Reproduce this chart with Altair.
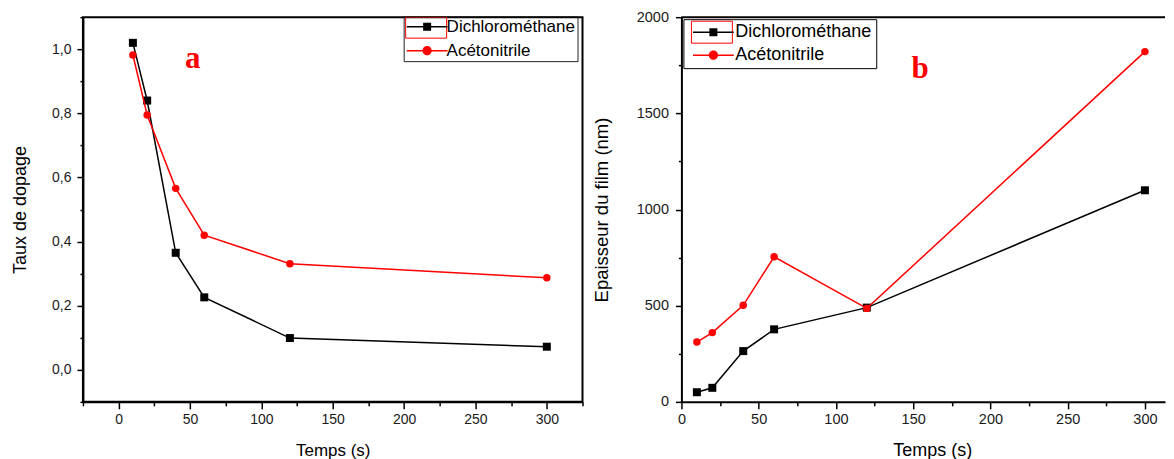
import altair as alt
import pandas as pd

FONT = "Liberation Sans"

# ---- data ----
temps = [10, 20, 40, 60, 120, 300]
series_names = ["Dichlorométhane", "Acétonitrile"]
series_colors = ["#000000", "#ff0000"]

taux_dichloro = [1.02, 0.84, 0.365, 0.226, 0.099, 0.072]
taux_aceto = [0.982, 0.795, 0.566, 0.42, 0.331, 0.287]

epais_dichloro = [50, 73, 264, 377, 490, 1100]
epais_aceto = [311, 360, 502, 754, 486, 1821]

left_x_ticks = [-25, 0, 25, 50, 75, 100, 125, 150, 175, 200, 225, 250, 275, 300, 325]
left_y_ticks = [-0.1, 0.0, 0.1, 0.2, 0.3, 0.4, 0.5, 0.6, 0.7, 0.8, 0.9, 1.0, 1.1]
right_x_ticks = [0, 25, 50, 75, 100, 125, 150, 175, 200, 225, 250, 275, 300]
right_y_ticks = [0, 250, 500, 750, 1000, 1250, 1500, 1750, 2000]


def table(a, b):
    return pd.DataFrame({
        "t": temps + temps,
        "v": a + b,
        "series": [series_names[0]] * len(temps) + [series_names[1]] * len(temps),
    })


df_left = table(taux_dichloro, taux_aceto)
df_right = table(epais_dichloro, epais_aceto)

# legend symbols: line through a square / a circle (filled shapes)
SQ = "M-5.1,-0.19H5.1V0.19H-5.1Z M-1,-1H1V1H-1Z"
CI = "M-5.1,-0.19H5.1V0.19H-5.1Z M1.15,0A1.15,1.15,0,1,1,-1.15,0A1.15,1.15,0,1,1,1.15,0Z"

X_MAJOR = "datum.value % 50 == 0"


def make_panel(df, xscale, xaxis, yscale, yaxis, legend, sel_box, tag, tag_pos,
               width, height, frame_top=False):
    cscale = alt.Scale(domain=series_names, range=series_colors)
    x = alt.X("t:Q", scale=xscale, axis=xaxis)
    y = alt.Y("v:Q", scale=yscale, axis=yaxis)
    base = alt.Chart(df)
    layers = []
    for name, col, shp, sz in zip(series_names, series_colors,
                                  ["square", "circle"], [64, 56]):
        sub = base.transform_filter(alt.datum.series == name)
        layers.append(sub.mark_line(strokeWidth=1.5, color=col).encode(x=x, y=y))
        layers.append(sub.mark_point(shape=shp, filled=True, size=sz, color=col,
                                     opacity=1).encode(x=x, y=y))
    # invisible layer that only carries the legend
    leg = base.mark_point(filled=True, opacity=0).encode(
        x=x, y=y,
        color=alt.Color("series:N", scale=cscale, legend=legend),
        shape=alt.Shape("series:N", scale=alt.Scale(domain=series_names, range=[SQ, CI]),
                        legend=legend),
    )
    box = alt.Chart(alt.Data(values=[{}])).mark_rect(
        filled=False, stroke="#ff0000", strokeWidth=1
    ).encode(x=alt.value(sel_box[0]), x2=alt.value(sel_box[1]),
             y=alt.value(sel_box[2]), y2=alt.value(sel_box[3]))
    label = alt.Chart(alt.Data(values=[{}])).mark_text(
        text=tag, font="Liberation Serif", fontSize=31, fontWeight="bold",
        color="#ff0000", align="center", baseline="alphabetic"
    ).encode(x=alt.value(tag_pos[0]), y=alt.value(tag_pos[1]))
    layers += [leg, box, label]
    if frame_top:
        top = alt.Chart(alt.Data(values=[{}])).mark_rule(
            color="black", strokeWidth=2
        ).encode(x=alt.value(0), x2=alt.value(width), y=alt.value(0))
        layers.append(top)
    ch = alt.layer(*layers).properties(width=width, height=height)
    if frame_top:
        ch = ch.properties(view=alt.ViewBackground(stroke=None))
    return ch


def tick_size(test, major, minor):
    return {"condition": {"test": test, "value": major}, "value": minor}


# ---- left panel ----
left_xaxis = alt.Axis(
    values=left_x_ticks, title="Temps (s)", titleFontSize=17, titlePadding=16,
    labelFontSize=14, labelPadding=4, labelFlush=False,
    labelExpr=f"{X_MAJOR} ? format(datum.value, 'd') : ''",
    tickSize=tick_size(X_MAJOR, 7, 4), grid=False)
Y_MAJOR_L = "abs(round(datum.value * 10)) % 2 == 0"
left_yaxis = alt.Axis(
    values=left_y_ticks, title="Taux de dopage", titleFontSize=18, titlePadding=22,
    labelFontSize=14, labelPadding=6, labelFlush=False,
    labelExpr=f"{Y_MAJOR_L} ? replace(format(datum.value, '.1f'), '.', ',') : ''",
    tickSize=tick_size(Y_MAJOR_L, 6, 3), grid=False)
left_legend = alt.Legend(
    title=None, orient="none", legendX=321, legendY=-1, padding=2,
    strokeColor="#222222", labelFont=FONT, labelFontSize=17, labelColor="black",
    symbolSize=64, symbolOffset=13, labelOffset=11, rowPadding=6,
    symbolStrokeWidth=0, symbolOpacity=1)

left = make_panel(
    df_left,
    alt.Scale(domain=[-25, 325], nice=False, zero=False), left_xaxis,
    alt.Scale(domain=[-0.1, 1.1], nice=False, zero=False), left_yaxis,
    left_legend, (323, 364, 0, 21), "a", (110, 51), 500, 385)

# ---- right panel ----
right_xaxis = alt.Axis(
    values=right_x_ticks, title="Temps (s)", titleFontSize=18, titlePadding=15,
    titleX=251, labelFontSize=14.5, labelPadding=4, labelFlush=False,
    labelExpr=f"{X_MAJOR} ? format(datum.value, 'd') : ''",
    tickSize=tick_size(X_MAJOR, 7, 4), grid=False)
Y_MAJOR_R = "datum.value % 500 == 0"
right_yaxis = alt.Axis(
    values=right_y_ticks, title="Epaisseur du film (nm)", titleFontSize=18.5,
    titlePadding=25, labelFontSize=14.5, labelPadding=7, labelFlush=False,
    labelExpr=f"{Y_MAJOR_R} ? format(datum.value, 'd') : ''",
    tickSize=tick_size(Y_MAJOR_R, 6, 3), grid=False)
right_legend = alt.Legend(
    title=None, orient="none", legendX=2, legendY=2, padding=4,
    strokeColor="black", labelFont=FONT, labelFontSize=18, labelColor="black",
    symbolSize=64, symbolOffset=17, labelOffset=13, rowPadding=5,
    symbolStrokeWidth=0, symbolOpacity=1)

right = make_panel(
    df_right,
    alt.Scale(domain=[0, 313], nice=False, zero=False), right_xaxis,
    alt.Scale(domain=[0, 2000], nice=False, zero=False), right_yaxis,
    right_legend, (10, 51, 4, 26), "b", (239, 61), 484, 385, frame_top=True)

chart = alt.hconcat(
    left, right, spacing=99, bounds="flush",
    padding={"left": 2, "top": 1, "right": 0, "bottom": 0},
).resolve_scale(
    color="independent", shape="independent"
).configure_view(
    stroke="black", strokeWidth=2
).configure_axis(
    labelFont=FONT, titleFont=FONT, labelColor="#1a1a1a", titleColor="black",
    titleFontWeight="normal", domainColor="black", domainWidth=2,
    tickColor="black", tickWidth=1.5,
)

chart.save("out.html", embed_options={"renderer": "svg", "actions": False})
